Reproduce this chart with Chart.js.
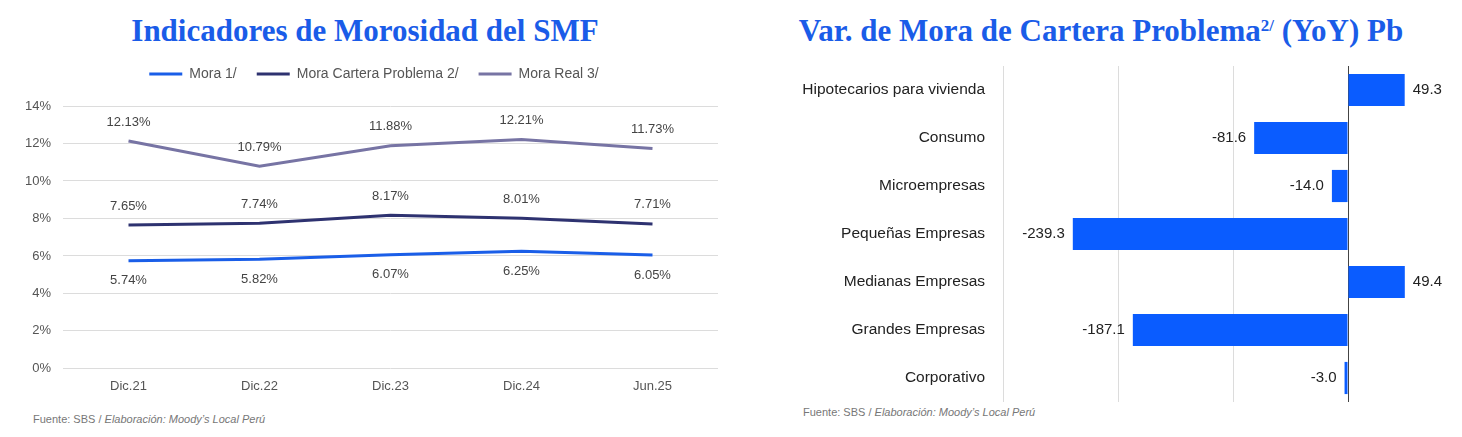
<!DOCTYPE html>
<html>
<head>
<meta charset="utf-8">
<script src="https://cdn.jsdelivr.net/npm/chart.js@4.4.1/dist/chart.umd.min.js"></script>
<style>
  body { margin: 0; background: #fff; width: 1462px; height: 437px; position: relative; overflow: hidden; font-family: "Liberation Sans", Arial, sans-serif; }
  .title { position: absolute; top: 13px; font-family: "Liberation Serif", "Times New Roman", serif; font-weight: bold; font-size: 31px; color: #1a5ce8; text-align: center; white-space: nowrap; line-height: 36px; }
  .title .sup { font-size: 17px; position: relative; top: -10px; vertical-align: baseline; }
  .note { position: absolute; font-size: 11px; color: #777; }
  canvas { position: absolute; }
</style>
</head>
<body>
<div class="title" style="left:0;width:730px;">Indicadores de Morosidad del SMF</div>
<div class="title" style="left:740px;width:722px;">Var. de Mora de Cartera Problema<span class="sup">2/</span> (YoY) Pb</div>

<canvas id="lineChart" width="730" height="349" style="left:0;top:47px;"></canvas>
<canvas id="barChart" width="724" height="345" style="left:740px;top:60px;"></canvas>

<div class="note" style="left:33px;top:413px;">Fuente: SBS / <i>Elaboración: Moody’s Local Perú</i></div>
<div class="note" style="left:803px;top:406px;">Fuente: SBS / <i>Elaboración: Moody’s Local Perú</i></div>

<script>
// periodos y series (%)
const periods = ["Dic.21", "Dic.22", "Dic.23", "Dic.24", "Jun.25"];
const mora1 = [5.74, 5.82, 6.07, 6.25, 6.05];
const moraCartera = [7.65, 7.74, 8.17, 8.01, 7.71];
const moraReal = [12.13, 10.79, 11.88, 12.21, 11.73];

// variacion YoY en pb por tipo de credito
const segments = ["Hipotecarios para vivienda", "Consumo", "Microempresas", "Pequeñas Empresas", "Medianas Empresas", "Grandes Empresas", "Corporativo"];
const varPb = [49.3, -81.6, -14.0, -239.3, 49.4, -187.1, -3.0];

Chart.defaults.font.family = '"Liberation Sans", Arial, sans-serif';
Chart.defaults.animation = false;

// mas aire entre la leyenda y el grafico, y leyenda algo a la derecha
const legendGap = {
  id: 'legendGap',
  beforeInit(chart) {
    const fit = chart.legend.fit;
    chart.legend.fit = function () {
      fit.call(this);
      this.height += 15;
    };
  },
  afterLayout(chart) {
    chart.legend.left += 30;
  }
};

// etiquetas de la serie: Mora 1/ debajo, las otras encima
const lineLabels = {
  id: 'lineLabels',
  afterDatasetsDraw(chart) {
    const ctx = chart.ctx;
    ctx.save();
    ctx.font = '13px "Liberation Sans", Arial, sans-serif';
    ctx.fillStyle = '#444';
    ctx.textAlign = 'center';
    ctx.textBaseline = 'middle';
    chart.data.datasets.forEach((ds, i) => {
      const meta = chart.getDatasetMeta(i);
      meta.data.forEach((pt, j) => {
        const dy = i === 0 ? 20 : -19;
        ctx.fillText(ds.data[j].toFixed(2) + '%', pt.x, pt.y + dy);
      });
    });
    ctx.restore();
  }
};

new Chart(document.getElementById('lineChart'), {
  type: 'line',
  data: {
    labels: periods,
    datasets: [
      { label: 'Mora 1/', data: mora1, borderColor: '#1a5ee8', backgroundColor: '#1a5ee8', borderWidth: 3 },
      { label: 'Mora Cartera Problema 2/', data: moraCartera, borderColor: '#2e3270', backgroundColor: '#2e3270', borderWidth: 3 },
      { label: 'Mora Real 3/', data: moraReal, borderColor: '#7774a4', backgroundColor: '#7774a4', borderWidth: 3 }
    ]
  },
  options: {
    responsive: false,
    layout: { padding: { top: 0, right: 12, bottom: 0, left: 0 } },
    elements: { line: { tension: 0 }, point: { radius: 0 } },
    plugins: {
      legend: {
        position: 'top',
        labels: {
          usePointStyle: true, pointStyle: 'line', pointStyleWidth: 33, color: '#555',
          font: { size: 14 }, padding: 20
        }
      },
      tooltip: { enabled: false }
    },
    scales: {
      x: {
        offset: true,
        grid: { display: false },
        border: { display: false },
        ticks: { color: '#555', font: { size: 13 }, padding: 2 }
      },
      y: {
        min: 0, max: 14,
        afterFit: s => { s.width = 63; },
        grid: { color: '#dcdcdc', drawTicks: false },
        border: { display: false },
        ticks: { stepSize: 2, color: '#555', font: { size: 13 }, padding: 12, callback: v => v + '%' }
      }
    }
  },
  plugins: [legendGap, lineLabels]
});

// etiquetas de valor al final de cada barra
const barLabels = {
  id: 'barLabels',
  afterDatasetsDraw(chart) {
    const ctx = chart.ctx;
    ctx.save();
    ctx.font = '15px "Liberation Sans", Arial, sans-serif';
    ctx.fillStyle = '#222';
    ctx.textBaseline = 'middle';
    const meta = chart.getDatasetMeta(0);
    meta.data.forEach((bar, j) => {
      const v = chart.data.datasets[0].data[j];
      if (v >= 0) { ctx.textAlign = 'left'; ctx.fillText(v.toFixed(1), bar.x + 8, bar.y); }
      else { ctx.textAlign = 'right'; ctx.fillText(v.toFixed(1), bar.x - 8, bar.y); }
    });
    ctx.restore();
  }
};

new Chart(document.getElementById('barChart'), {
  type: 'bar',
  data: {
    labels: segments,
    datasets: [{ data: varPb, backgroundColor: '#0a5cff', categoryPercentage: 1, barPercentage: 0.67 }]
  },
  options: {
    indexAxis: 'y',
    responsive: false,
    layout: { padding: { top: 6, right: 1, bottom: 3, left: 0 } },
    plugins: { legend: { display: false }, tooltip: { enabled: false } },
    scales: {
      x: {
        min: -300, max: 100,
        grid: { color: ctx => ctx.tick && ctx.tick.value === 0 ? '#444' : '#dcdcdc', drawTicks: false },
        border: { display: false },
        ticks: { display: false, stepSize: 100 }
      },
      y: {
        afterFit: s => { s.width = 263; s.paddingTop = 0; s.paddingBottom = 0; },
        grid: { display: false },
        border: { display: false },
        ticks: { color: '#222', font: { size: 15.5 }, padding: 10 }
      }
    }
  },
  plugins: [barLabels]
});
</script>
</body>
</html>
